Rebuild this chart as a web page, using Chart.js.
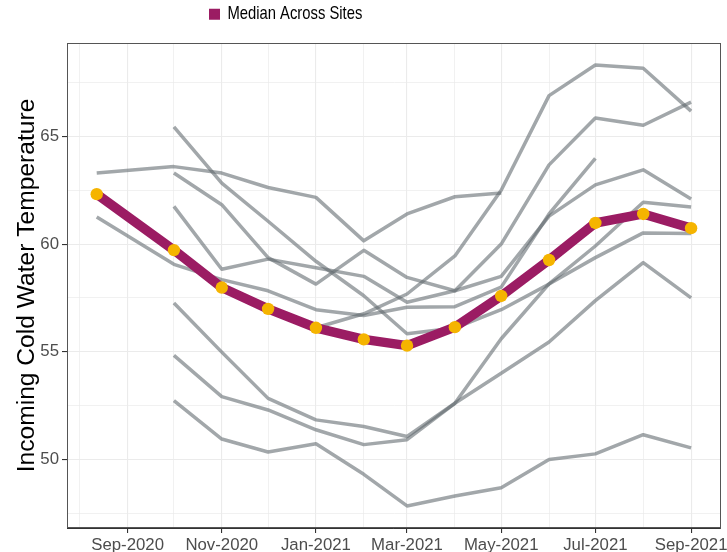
<!DOCTYPE html>
<html><head><meta charset="utf-8">
<script src="https://cdn.jsdelivr.net/npm/chart.js@4.4.1/dist/chart.umd.min.js"></script>
<style>html,body{margin:0;padding:0;background:#fff}</style>
</head><body>
<canvas id="c" width="727" height="552"></canvas>
<script>
// ---- data ----
const sampleDates = ['2020-08-12','2020-10-01','2020-11-01','2020-12-01','2021-01-01','2021-02-01','2021-03-01','2021-04-01','2021-05-01','2021-06-01','2021-07-01','2021-08-01','2021-09-01'];
const medianLabel = 'Median Across Sites';
const medianTemps = [62.32, 59.72, 57.98, 56.99, 56.11, 55.57, 55.28, 56.14, 57.59, 59.26, 60.98, 61.40, 60.74];
const siteA = [63.3, 63.6, 63.3, 62.63, 62.17, 60.15, 61.4, 62.2, 62.37, null, null, null, null];
const siteB = [61.26, 59.06, 58.35, 57.83, 56.95, 56.68, 57.06, 57.09, 58.0, 61.4, 63.98, null, null];
const siteC = [null, 65.45, 62.83, 61.06, 59.2, 57.6, 55.83, 56.1, 56.95, 58.14, 59.37, 60.52, 60.49];
const siteD = [null, 63.3, 61.83, 59.37, 58.14, 59.71, 58.45, 57.83, 60.0, 63.68, 65.86, 65.52, 66.6];
const siteE = [null, 61.75, 58.83, 59.3, 58.9, 58.5, 57.3, 57.83, 58.5, 61.3, 62.75, 63.45, 62.1];
const siteF = [null, null, null, null, 56.11, 56.76, 57.68, 59.45, 62.5, 66.9, 68.32, 68.17, 66.18];
const siteG = [null, 57.26, 54.98, 52.83, 51.83, 51.52, 51.06, 52.6, 54.0, 55.45, 57.37, 59.14, 57.5];
const siteH = [null, 54.83, 52.91, 52.29, 51.37, 50.68, 50.91, 52.6, 55.6, 58.15, 59.91, 61.94, 61.72];
const siteI = [null, 52.72, 50.94, 50.34, 50.72, 49.3, 47.83, 48.29, 48.68, 49.99, 50.25, 51.14, 50.53];
const siteSeries = [siteA, siteB, siteC, siteD, siteE, siteF, siteG, siteH, siteI];

const majorTickDates = ['2020-09-01','2020-11-01','2021-01-01','2021-03-01','2021-05-01','2021-07-01','2021-09-01'];
const majorTickLabels = ['Sep-2020','Nov-2020','Jan-2021','Mar-2021','May-2021','Jul-2021','Sep-2021'];
const minorTickDates = ['2020-08-01','2020-10-01','2020-12-01','2021-02-01','2021-04-01','2021-06-01','2021-08-01'];
const majorY = [50, 55, 60, 65];
const minorY = [47.5, 52.5, 57.5, 62.5, 67.5];
const yTitle = 'Incoming Cold Water Temperature';

// ---- helpers ----
const SANS = "'Liberation Sans', Arial, sans-serif";
const PURPLE = '#9B1C63';
const GOLD = '#F5B400';
const GREY = 'rgba(95,103,108,0.58)';
const LEG_X = 209, LEG_SCALE = 0.8;
const dayOf = s => { const [y, m, d] = s.split('-').map(Number); return Date.UTC(y, m - 1, d) / 86400000; };
const toPts = arr => arr.map((v, i) => v == null ? null : { x: dayOf(sampleDates[i]), y: v }).filter(Boolean);
const majorXDays = majorTickDates.map(dayOf);
const allXDays = majorTickDates.concat(minorTickDates).map(dayOf).sort((a, b) => a - b);
const isMajorX = v => majorXDays.indexOf(v) >= 0;
const isMajorY = v => majorY.indexOf(v) >= 0;

const allVals = medianTemps.concat(...siteSeries).filter(v => v != null);
const yLo = Math.min(...allVals), yHi = Math.max(...allVals);
const yPad = (yHi - yLo) * 0.05;
const xLo = dayOf(sampleDates[0]), xHi = dayOf(sampleDates[sampleDates.length - 1]);
const xPad = (xHi - xLo) * 0.05;

const datasets = [{
  label: medianLabel, data: toPts(medianTemps), borderColor: PURPLE, backgroundColor: PURPLE,
  borderWidth: 9.5, pointRadius: 6.2, pointHoverRadius: 6.2, pointBackgroundColor: GOLD, pointBorderWidth: 0,
  borderJoinStyle: 'round', tension: 0, order: 0
}].concat(siteSeries.map((s, i) => ({
  label: 'Site ' + (i + 1), data: toPts(s), borderColor: GREY, borderWidth: 3.5,
  pointRadius: 0, pointHoverRadius: 0, borderJoinStyle: 'round', tension: 0, order: 1
})));

const layoutFix = {
  id: 'layoutFix',
  beforeLayout(chart) {
    const lg = chart.legend;
    if (lg && !lg._patched) {
      const f = lg.fit;
      lg.fit = function () { f.call(this); this.height = 43; };
      const d = lg.draw;
      lg.draw = function () {
        const ctx = this.ctx;
        ctx.save();
        ctx.translate(LEG_X, 0); ctx.scale(LEG_SCALE, 1); ctx.translate(-LEG_X, 0);
        d.call(this);
        ctx.restore();
      };
      lg._patched = true;
    }
  },
  beforeDraw(chart) { if (chart.legend) chart.legend.left = LEG_X - 5; },
  afterDatasetsDraw(chart) {
    const a = chart.chartArea, ctx = chart.ctx;
    ctx.save();
    ctx.strokeStyle = '#555'; ctx.lineWidth = 1;
    ctx.strokeRect(Math.round(a.left) + 0.5, Math.round(a.top) + 0.5, Math.round(a.right - a.left) - 1, Math.round(a.bottom - a.top) - 1);
    ctx.restore();
  }
};

new Chart(document.getElementById('c'), {
  type: 'line',
  data: { datasets },
  plugins: [layoutFix],
  options: {
    responsive: false, animation: false, devicePixelRatio: 1,
    layout: { padding: { left: 0, right: 5, top: 0, bottom: 0 } },
    plugins: {
      tooltip: { enabled: false },
      legend: {
        display: true, position: 'top', align: 'start',
        labels: {
          boxWidth: 11 / LEG_SCALE, boxHeight: 11, padding: 5, color: '#000',
          font: { family: SANS, size: 18.5 },
          generateLabels: () => [{ text: medianLabel, fillStyle: PURPLE, strokeStyle: PURPLE, lineWidth: 0, hidden: false, datasetIndex: 0 }]
        }
      }
    },
    scales: {
      x: {
        type: 'linear', min: xLo - xPad, max: xHi + xPad,
        afterBuildTicks: s => { s.ticks = allXDays.map(v => ({ value: v })); },
        afterFit: s => { s.height = 24; s.paddingLeft = 0; s.paddingRight = 0; },
        ticks: {
          autoSkip: false, maxRotation: 0, minRotation: 0, padding: 2, color: '#4D4D4D',
          font: { family: SANS, size: 16.8 },
          callback: v => { const i = majorXDays.indexOf(v); return i >= 0 ? majorTickLabels[i] : ''; }
        },
        grid: {
          color: '#EBEBEB', lineWidth: c => isMajorX(c.tick && c.tick.value) ? 1.1 : 0.7,
          tickLength: 5, tickColor: c => isMajorX(c.tick && c.tick.value) ? '#333' : 'rgba(0,0,0,0)'
        },
        border: { display: true, color: '#333', width: 1 }
      },
      y: {
        type: 'linear', min: yLo - yPad, max: yHi + yPad,
        afterBuildTicks: s => { s.ticks = majorY.concat(minorY).sort((a, b) => a - b).map(v => ({ value: v })); },
        afterFit: s => { s.width = 67; s.paddingTop = 0; s.paddingBottom = 0; },
        ticks: {
          autoSkip: false, padding: 3, color: '#4D4D4D', font: { family: SANS, size: 16.8 },
          callback: v => isMajorY(v) ? String(v) : ''
        },
        grid: {
          color: '#EBEBEB', lineWidth: c => isMajorY(c.tick && c.tick.value) ? 1.1 : 0.7,
          tickLength: 5, tickColor: c => isMajorY(c.tick && c.tick.value) ? '#333' : 'rgba(0,0,0,0)'
        },
        border: { display: true, color: '#333', width: 1 },
        title: { display: true, text: yTitle, color: '#000', font: { family: SANS, size: 24.6 }, padding: { top: 12.5, bottom: 0 } }
      }
    }
  }
});
</script>
</body></html>
